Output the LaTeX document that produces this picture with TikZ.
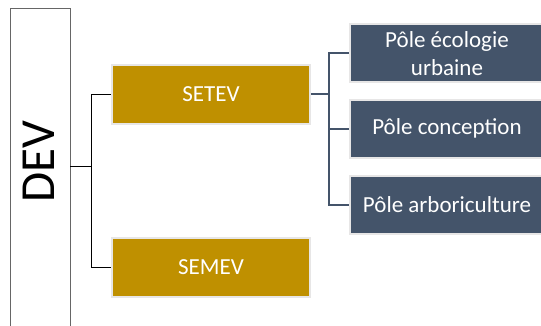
\documentclass[tikz,border=0pt]{standalone}
\usepackage{fontspec}
\setmainfont{Carlito}
\usepackage{tikz}
\usetikzlibrary{calc}

\definecolor{gold}{HTML}{BF9000}
\definecolor{slate}{HTML}{44546A}
\definecolor{rim}{HTML}{E7E6E6}

\begin{document}
\begin{tikzpicture}[x=1pt, y=-1pt,
    unit/.style={shape=rectangle, fill=gold, draw=rim, line width=2pt, minimum width=198pt, minimum height=59pt, inner sep=0pt, text=white, font=\fontsize{23}{28}\selectfont},
    pole/.style={shape=rectangle, fill=slate, draw=rim, line width=2pt, minimum width=195pt, minimum height=58pt, inner sep=0pt, text=white, align=center, font=\fontsize{23}{28}\selectfont},
    thin/.style={draw=black, line width=0.75pt},
    thick/.style={draw=slate, line width=2pt}]

    \useasboundingbox (0,0) rectangle (541,325);

    \node[shape=rectangle, draw=black!60, line width=0.8pt, minimum width=60pt, minimum height=340pt, anchor=north] (dev) at (40,7.7) {};
    \node[rotate=90, font=\fontsize{49}{49}\selectfont] (devlabel) at (39,161.5) {DEV};
    \coordinate (devport) at ($(dev.north east)+(0,159)$);

    \node[unit] (setev) at (211,94)  {SETEV};
    \node[unit] (semev) at (211,267) {SEMEV};

    \node[pole] (ecologie)      at (447,53.3)  {Pôle écologie\\urbaine};
    \node[pole] (conception)    at (447,128.5) {Pôle conception};
    \node[pole] (arboriculture) at (447,205)   {Pôle arboriculture};

    \path[thin] (devport) -- ++(20.7,0) |- (setev.west);
    \path[thin] (devport) -- ++(20.7,0) |- (semev.west);

    \path[thick] (setev.east) -- ++(18,0) |- (ecologie.west);
    \path[thick] (setev.east) -- ++(18,0) |- (conception.west);
    \path[thick] (setev.east) -- ++(18,0) |- (arboriculture.west);

\end{tikzpicture}
\end{document}
